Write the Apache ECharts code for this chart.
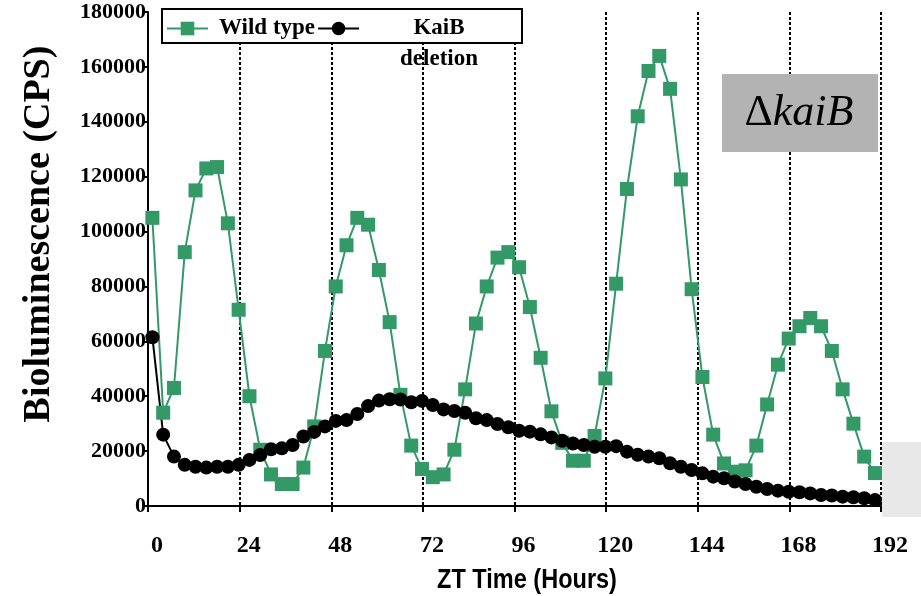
<!DOCTYPE html>
<html>
<head>
<meta charset="utf-8">
<script src="https://cdn.jsdelivr.net/npm/echarts@6/dist/echarts.min.js"></script>
<style>
  html, body { margin: 0; padding: 0; background: #fff; }
  #chart { width: 921px; height: 596px; }
</style>
</head>
<body>
<div id="chart"></div>
<script>
// sampling: first reading ~1.15 h after ZT0, then every ~2.825 h
const START_HOUR = 1.15
const STEP_HOURS = 2.825

const wildType = [
  105000, 34000, 43000, 92500, 115000, 123000, 123500, 103000, 71500, 40000,
  20500, 11500, 8000, 8000, 14000, 29000, 56500, 80000, 95000, 105000,
  102500, 86000, 67000, 40500, 22000, 13500, 10500, 11500, 20500, 42500,
  66500, 80000, 90500, 92500, 87000, 72500, 54000, 34500, 23000, 16500,
  16500, 25500, 46500, 81000, 115500, 142000, 158500, 164000, 152000, 119000,
  79000, 47000, 26000, 15500, 12500, 13000, 22000, 37000, 51500, 61000,
  65500, 68500, 65500, 56500, 42500, 30000, 18000, 12000
]

const kaiBDeletion = [
  61500, 26000, 18000, 15000, 14300, 14000, 14300, 14300, 15000, 16800,
  18600, 20700, 21000, 22200, 25300, 27000, 29000, 31000, 31300, 33500,
  36400, 38400, 38900, 38800, 37800, 38300, 36800, 35200, 34600, 34000,
  32000, 31300, 29900, 28700, 27400, 27100, 26100, 25000, 23800, 22800,
  22200, 21600, 21600, 21800, 19800, 18700, 18000, 17400, 15600, 14300,
  13100, 11900, 10700, 10100, 8900, 8000, 7000, 6200, 5600, 5200,
  5000, 4600, 4000, 3800, 3400, 3200, 2800, 2200
]

const seriesNames = ['Wild type', 'KaiB deletion']

const SERIF = "'Liberation Serif', 'Times New Roman', serif"
const SANS = "'Liberation Sans', Arial, sans-serif"
const GREEN = '#339966'

const hours = wildType.map((_, i) => +(START_HOUR + i * STEP_HOURS).toFixed(3))
const toPairs = values => values.map((v, i) => [hours[i], v])

const chart = echarts.init(document.getElementById('chart'))

const option = {
  animation: false,
  grid: { left: 148, right: 40, top: 12, bottom: 90 },
  legend: {
    left: 161,
    top: -23,
    padding: 5,
    itemWidth: 41,
    itemHeight: 17,
    itemGap: 2,
    z: 10,
    textStyle: { fontFamily: SERIF, fontWeight: 'bold', fontSize: 23, color: '#000' },
    formatter: name => name === 'KaiB deletion' ? '{c|KaiB}\n{c|deletion}' : name,
    data: [
      { name: 'Wild type', textStyle: { padding: [0, 0, 0, 6] } },
      {
        name: 'KaiB deletion',
        textStyle: {
          padding: [31, 0, 0, 36],
          lineHeight: 31,
          rich: {
            c: { align: 'center', fontFamily: SERIF, fontWeight: 'bold', fontSize: 23, lineHeight: 31, color: '#000' }
          }
        }
      }
    ]
  },
  xAxis: {
    type: 'value',
    min: 0,
    max: 192,
    interval: 24,
    axisLine: { lineStyle: { color: '#000', width: 2 } },
    axisTick: { length: 6, lineStyle: { color: '#000', width: 2 } },
    axisLabel: { fontFamily: SERIF, fontWeight: 'bold', fontSize: 24, color: '#000', margin: 28, padding: [0, 0, 0, 18] },
    splitLine: { show: true, lineStyle: { color: '#000', width: 2, type: [3, 2] } }
  },
  yAxis: {
    type: 'value',
    min: 0,
    max: 180000,
    interval: 20000,
    name: 'Bioluminescence (CPS)',
    nameLocation: 'middle',
    nameRotate: 90,
    nameGap: 90,
    nameTextStyle: { fontFamily: SERIF, fontWeight: 'bold', fontSize: 38, color: '#000', padding: [0, 0, 0, 50] },
    axisLine: { show: true, lineStyle: { color: '#000', width: 2 } },
    axisTick: { show: true, length: 6, lineStyle: { color: '#000', width: 2 } },
    axisLabel: {
      fontFamily: SERIF, fontWeight: 'bold', fontSize: 22, color: '#000', margin: 2,
      formatter: v => String(v)
    },
    splitLine: { show: false }
  },
  series: [
    {
      name: seriesNames[0],
      type: 'line',
      data: toPairs(wildType),
      symbol: 'rect',
      symbolSize: 14,
      itemStyle: { color: GREEN },
      lineStyle: { color: GREEN, width: 2 }
    },
    {
      name: seriesNames[1],
      type: 'line',
      data: toPairs(kaiBDeletion),
      symbol: 'circle',
      symbolSize: 14,
      itemStyle: { color: '#000' },
      lineStyle: { color: '#000', width: 2 }
    }
  ],
  graphic: [
    {
      type: 'rect',
      z: 8,
      shape: { x: 162, y: 9, width: 360, height: 34 },
      style: { fill: '#fff', stroke: '#000', lineWidth: 2 }
    },
    {
      type: 'rect',
      z: 8,
      shape: { x: 722, y: 74, width: 156, height: 78 },
      style: { fill: '#b3b3b3' }
    },
    {
      type: 'text',
      z: 9,
      x: 799,
      y: 113,
      style: {
        text: '{d|Δ}{k|kaiB}',
        align: 'center',
        verticalAlign: 'middle',
        rich: {
          d: { fontFamily: SERIF, fontSize: 44, fill: '#000' },
          k: { fontFamily: SERIF, fontSize: 44, fontStyle: 'italic', fill: '#000' }
        }
      }
    },
    {
      type: 'rect',
      z: 8,
      shape: { x: 882, y: 442, width: 39, height: 75 },
      style: { fill: '#e8e8e8' }
    },
    {
      // x-axis title, drawn condensed like the original
      type: 'text',
      z: 9,
      x: 527,
      y: 580,
      scaleX: 0.84,
      style: {
        text: 'ZT Time (Hours)',
        align: 'center',
        verticalAlign: 'middle',
        fontFamily: SANS,
        fontWeight: 'bold',
        fontSize: 28,
        fill: '#000'
      }
    }
  ]
}

chart.setOption(option)
</script>
</body>
</html>
